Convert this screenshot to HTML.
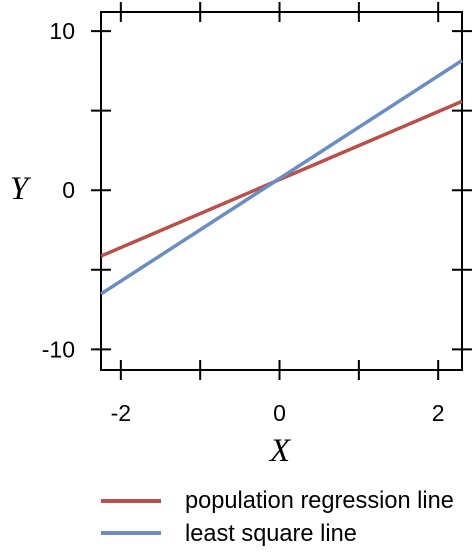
<!DOCTYPE html>
<html><head><meta charset="utf-8"><style>
html,body{margin:0;padding:0;background:#fff;}
svg{display:block;}
</style></head><body>
<svg id="chart" width="474" height="554" viewBox="0 0 474 554" xmlns="http://www.w3.org/2000/svg">
<rect x="101" y="12" width="361" height="358" fill="none" stroke="#000" stroke-width="2"/>
<g id="ticks"></g>
<g id="lines"></g>
<g id="labels" font-family="Liberation Sans, sans-serif" font-size="23" fill="#000"></g>
<text x="280" y="461" text-anchor="middle" font-family="Liberation Serif, serif" font-style="italic" font-size="33">X</text>
<text x="19" y="199" text-anchor="middle" font-family="Liberation Serif, serif" font-style="italic" font-size="33">Y</text>
<g>
<line x1="101" y1="501" x2="161" y2="501" stroke="#b9504b" stroke-width="4"/>
<text x="185" y="508" font-family="Liberation Sans, sans-serif" font-size="23.6">population regression line</text>
<line x1="101" y1="533" x2="161" y2="533" stroke="#6a8dc3" stroke-width="4"/>
<text x="185" y="541" font-family="Liberation Sans, sans-serif" font-size="23.6">least square line</text>
</g>
</svg>
<script>
const xEnds = [-2.25, 2.3];
const popY = [-4.14, 5.58];
const lsqY = [-6.52, 8.15];
const xTicks = [-2, -1, 0, 1, 2];
const xTickLabels = ["-2", "", "0", "", "2"];
const yTicks = [-10, -5, 0, 5, 10];
const yTickLabels = ["-10", "", "0", "", "10"];

const NS = "http://www.w3.org/2000/svg";
const L = 101, R = 462, T = 12, B = 370;
const X0 = -2.25, X1 = 2.3, Y0 = -11.3, Y1 = 11.2;
const sx = v => L + (v - X0) / (X1 - X0) * (R - L);
const sy = v => B - (v - Y0) / (Y1 - Y0) * (B - T);
function mk(tag, attrs, parent) {
  const e = document.createElementNS(NS, tag);
  for (const k in attrs) e.setAttribute(k, attrs[k]);
  parent.appendChild(e);
  return e;
}
const tg = document.getElementById('ticks');
const lg = document.getElementById('labels');
const ln = document.getElementById('lines');
xTicks.forEach((v, i) => {
  const x = sx(v);
  [[B - 10, B + 10], [T - 10, T + 10]].forEach(p => {
    const t = mk('line', {x1: x, x2: x, y1: p[0], y2: p[1], stroke: '#000', 'stroke-width': 2}, tg);
    
    
  });
  if (xTickLabels[i]) {
    const t = mk('text', {x: x, y: 421, 'text-anchor': 'middle'}, lg);
    t.textContent = xTickLabels[i];
    
    
  }
});
yTicks.forEach((v, i) => {
  const y = sy(v);
  [[L - 10, L + 10], [R - 10, R + 10]].forEach(p => {
    const t = mk('line', {x1: p[0], x2: p[1], y1: y, y2: y, stroke: '#000', 'stroke-width': 2}, tg);
    
    
  });
  if (yTickLabels[i]) {
    const t = mk('text', {x: 75, y: y + 8, 'text-anchor': 'end'}, lg);
    t.textContent = yTickLabels[i];
    
    
  }
});
const p1 = mk('line', {x1: sx(xEnds[0]), y1: sy(popY[0]), x2: sx(xEnds[1]), y2: sy(popY[1]), stroke: '#b9504b', 'stroke-width': 3.5}, ln);


const p2 = mk('line', {x1: sx(xEnds[0]), y1: sy(lsqY[0]), x2: sx(xEnds[1]), y2: sy(lsqY[1]), stroke: '#6a8dc3', 'stroke-width': 3.5}, ln);


</script>
</body></html>
